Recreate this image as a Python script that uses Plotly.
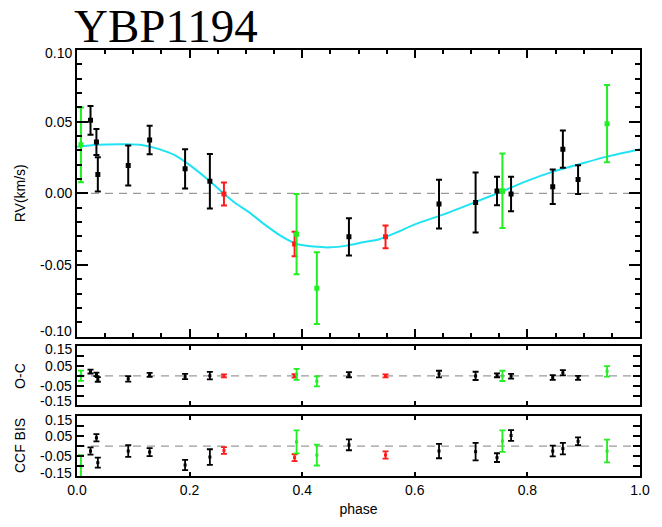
import plotly.graph_objects as go

# ---------------- data ----------------
# black points
blk_phase = [0.024, 0.0345, 0.037, 0.091, 0.129, 0.192, 0.236, 0.483, 0.643, 0.708, 0.746, 0.771, 0.845, 0.863, 0.890]
blk_rv = [0.0509, 0.0358, 0.0132, 0.0194, 0.0372, 0.0171, 0.0084, -0.0304, -0.0075, -0.0064, 0.0016, -0.0005, 0.0046, 0.0308, 0.0096]
blk_rv_err = [0.010, 0.009, 0.012, 0.014, 0.010, 0.0137, 0.019, 0.013, 0.017, 0.021, 0.010, 0.012, 0.012, 0.013, 0.010]
blk_oc = [0.022, 0.008, -0.018, -0.015, 0.005, -0.003, 0.001, 0.006, 0.009, 0.0, 0.003, -0.002, -0.008, 0.016, -0.010]
blk_bis = [-0.025, 0.0415, -0.083, -0.025, -0.030, -0.095, -0.055, 0.006, -0.025, -0.028, -0.058, 0.053, -0.025, -0.013, 0.024]
blk_bis_err = [0.018, 0.018, 0.025, 0.029, 0.020, 0.026, 0.039, 0.027, 0.036, 0.044, 0.022, 0.027, 0.027, 0.029, 0.020]

# red points
red_phase = [0.261, 0.3865, 0.548]
red_rv = [-0.0005, -0.0354, -0.0304]
red_rv_err = [0.008, 0.0085, 0.008]
red_oc = [0.0, 0.0, 0.0]
red_bis = [-0.022, -0.058, -0.045]
red_bis_err = [0.017, 0.017, 0.018]

# green points
grn_phase = [0.007, 0.390, 0.426, 0.7556, 0.9415]
grn_rv = [0.0338, -0.0285, -0.0662, 0.0018, 0.0486]
grn_rv_err = [0.026, 0.028, 0.025, 0.026, 0.027]
grn_oc = [0.001, 0.008, -0.028, 0.0, 0.023]
grn_bis = [-0.100, 0.021, -0.045, 0.025, -0.025]
grn_bis_err = [0.055, 0.058, 0.0525, 0.054, 0.057]

# orbit fit curve
fit_phase = [0, 0.035, 0.0877, 0.117, 0.146, 0.175, 0.205, 0.234, 0.26, 0.281, 0.3035, 0.333, 0.362, 0.391,
             0.4205, 0.45, 0.479, 0.508, 0.537, 0.567, 0.6, 0.65, 0.707, 0.754, 0.795, 0.847, 0.894, 0.941, 1.0]
fit_rv = [0.0324, 0.0338, 0.0342, 0.0336, 0.0308, 0.0263, 0.0183, 0.0091, 0.0, -0.0068, -0.0126, -0.0217, -0.0297,
          -0.0354, -0.0372, -0.0377, -0.0365, -0.0342, -0.032, -0.0274, -0.0217, -0.0149, -0.0062, 0.0011, 0.008,
          0.0153, 0.0205, 0.0256, 0.0308]

# tick labels
x_tickvals = [0.0, 0.2, 0.4, 0.6, 0.8, 1.0]
x_ticktext = ["0.0", "0.2", "0.4", "0.6", "0.8", "1.0"]
rv_tickvals = [0.10, 0.05, 0.0, -0.05, -0.10]
rv_ticktext = ["0.10", "0.05", "0.00", "-0.05", "-0.10"]
res_tickvals = [0.15, 0.05, -0.05, -0.15]
res_ticktext = ["0.15", "0.05", "-0.05", "-0.15"]

title_text = "YBP1194"

# ---------------- styles ----------------
BLACK = "#000000"
RED = "#ff1a1a"
GREEN = "#22ee22"
CYAN = "#1fe3f2"
FONT = "Liberation Sans, Arial, Helvetica, sans-serif"

W, H = 662, 527
L, R, T, B = 77, 15, 50, 43
ph = H - T - B


def dom(top_px, bot_px):
    return [(H - B - bot_px) / ph, (H - B - top_px) / ph]


D_RV = dom(50, 342)
D_OC = dom(352, 412)
D_BIS = dom(423, 484)

fig = go.Figure()

# fit curve
fig.add_trace(go.Scatter(x=fit_phase, y=fit_rv, mode="lines",
                         line=dict(color=CYAN, width=2, shape="spline", smoothing=0.6),
                         xaxis="x", yaxis="y", hoverinfo="skip"))

groups = [
    (blk_phase, blk_rv, blk_rv_err, blk_oc, blk_bis, blk_bis_err, BLACK),
    (red_phase, red_rv, red_rv_err, red_oc, red_bis, red_bis_err, RED),
    (grn_phase, grn_rv, grn_rv_err, grn_oc, grn_bis, grn_bis_err, GREEN),
]

for phs, rv, rve, oc, bis, bise, col in groups:
    fig.add_trace(go.Scatter(
        x=phs, y=rv, mode="markers", xaxis="x", yaxis="y",
        marker=dict(symbol="square", size=5, color=col),
        error_y=dict(type="data", array=rve, visible=True, color=col, thickness=2, width=3)))
    fig.add_trace(go.Scatter(
        x=phs, y=oc, mode="markers", xaxis="x2", yaxis="y2",
        marker=dict(symbol="square", size=3, color=col),
        error_y=dict(type="data", array=rve, visible=True, color=col, thickness=1.8, width=3)))
    fig.add_trace(go.Scatter(
        x=phs, y=bis, mode="markers", xaxis="x3", yaxis="y3",
        marker=dict(symbol="square", size=3, color=col),
        error_y=dict(type="data", array=bise, visible=True, color=col, thickness=1.8, width=3)))

axis_common = dict(showline=True, linecolor=BLACK, linewidth=2, mirror="allticks", ticks="inside",
                   tickcolor=BLACK, tickwidth=1.5, showgrid=False, zeroline=False,
                   tickfont=dict(family=FONT, size=14, color=BLACK))

res_minor = dict(ticks="inside", dtick=0.05, tick0=0, ticklen=7, tickcolor=BLACK, tickwidth=1.5)

fig.update_layout(
    width=W, height=H,
    margin=dict(l=L, r=R, t=T, b=B),
    paper_bgcolor="white", plot_bgcolor="white",
    showlegend=False,
    xaxis=dict(axis_common, domain=[0, 1], anchor="y", range=[0, 1], tickvals=x_tickvals, ticktext=x_ticktext,
               showticklabels=False, ticklen=8,
               minor=dict(ticks="inside", dtick=0.05, tick0=0, ticklen=4, tickcolor=BLACK, tickwidth=1.5)),
    yaxis=dict(axis_common, domain=D_RV, anchor="x", range=[-0.1, 0.1], tickvals=rv_tickvals,
               ticktext=rv_ticktext, ticklen=11, showticklabels=False,
               minor=dict(ticks="inside", dtick=0.01, tick0=0, ticklen=5, tickcolor=BLACK, tickwidth=1.5)),
    xaxis2=dict(axis_common, domain=[0, 1], anchor="y2", range=[0, 1], tickvals=x_tickvals, ticktext=x_ticktext,
                showticklabels=False, ticklen=4, matches="x"),
    yaxis2=dict(axis_common, domain=D_OC, anchor="x2", range=[-0.15, 0.15], tickvals=res_tickvals,
                ticktext=res_ticktext, ticklen=7, showticklabels=False, minor=res_minor),
    xaxis3=dict(axis_common, domain=[0, 1], anchor="y3", range=[0, 1], tickvals=x_tickvals, ticktext=x_ticktext,
                ticklen=4, matches="x",
                title=dict(text="phase", font=dict(family=FONT, size=14, color=BLACK), standoff=7)),
    yaxis3=dict(axis_common, domain=D_BIS, anchor="x3", range=[-0.15, 0.15], tickvals=res_tickvals,
                ticktext=res_ticktext, ticklen=7, showticklabels=False, minor=res_minor),
)

# y tick labels (end labels nudged inward as in the original IDL plot)
for yr, vals, texts, top_shift, bot_shift in [("y", rv_tickvals, rv_ticktext, -3, 6),
                                              ("y2", res_tickvals, res_ticktext, -3, 4),
                                              ("y3", res_tickvals, res_ticktext, -4, 3)]:
    for v, t in zip(vals, texts):
        shift = top_shift if v == max(vals) else (bot_shift if v == min(vals) else 0)
        fig.add_annotation(text=t, xref="paper", yref=yr, x=0, y=v, xanchor="right", yanchor="middle",
                           xshift=-3, yshift=shift, showarrow=False,
                           font=dict(family=FONT, size=14, color=BLACK))

# dashed zero lines
for xr, yr in [("x domain", "y"), ("x2 domain", "y2"), ("x3 domain", "y3")]:
    fig.add_shape(type="line", xref=xr, yref=yr, x0=0, x1=1, y0=0, y1=0,
                  line=dict(color="#9a9a9a", width=1.3, dash="8px,6px"), layer="below")

# y-axis titles
for txt, d in [("RV(km/s)", D_RV), ("O-C", D_OC), ("CCF BIS", D_BIS)]:
    fig.add_annotation(text=txt, xref="paper", yref="paper", x=0, y=(d[0] + d[1]) / 2,
                       xanchor="center", yanchor="middle", xshift=-57, textangle=-90, showarrow=False,
                       font=dict(family=FONT, size=14, color=BLACK))

# title
fig.add_annotation(text=title_text, xref="paper", yref="paper", x=0, y=1, xanchor="left", yanchor="top",
                   xshift=-5, yshift=T + 2, showarrow=False,
                   font=dict(family="Liberation Serif, Times New Roman, serif", size=47, color=BLACK))

fig.write_html("out.html", config={"displayModeBar": False},
               post_script="document.body.style.margin='0px';document.body.style.overflow='hidden';")
